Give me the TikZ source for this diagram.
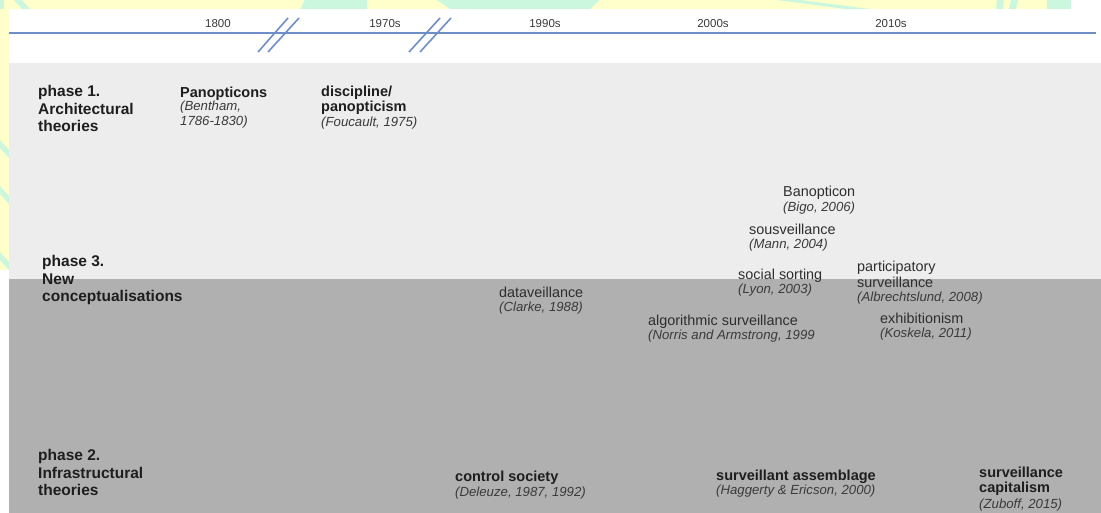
\documentclass[tikz,border=0pt]{standalone}
\usepackage{fontspec}
\setmainfont{Liberation Sans}
\definecolor{tlblue}{HTML}{6E8EC8}
\definecolor{lightband}{HTML}{EDEDED}
\definecolor{darkband}{HTML}{B0B0B0}
\definecolor{decoyellow}{HTML}{FFFFCC}
\definecolor{decomint}{HTML}{CCF7DF}
\definecolor{txtdark}{HTML}{1E1E1E}
\definecolor{txtmid}{HTML}{2E2E2E}
\definecolor{txtcite}{HTML}{3A3A3A}
\begin{document}
\begin{tikzpicture}[x=1pt,y=-1pt,
  phase/.style={anchor=north west,inner sep=0,align=left,text=txtdark,
    font=\fontsize{15.5}{17.5}\selectfont\bfseries},
  ttl/.style={anchor=north west,inner sep=0,align=left,text=txtdark,
    font=\fontsize{14.5}{15.5}\selectfont\bfseries},
  reg/.style={anchor=north west,inner sep=0,align=left,text=txtmid,
    font=\fontsize{14.4}{16}\selectfont},
  cite/.style={anchor=north west,inner sep=0,align=left,text=txtcite,
    font=\fontsize{13.2}{15}\selectfont\itshape},
  year/.style={anchor=base,inner sep=0,text=txtcite,
    font=\fontsize{11.5}{13}\selectfont},
  brk/.style={draw=tlblue,line width=1.6pt}
]
\useasboundingbox (0,0) rectangle (1101,513);
% decorative background strips
\fill[white] (0,0) rectangle (1101,513);
\fill[decoyellow] (0,0) rectangle (1071,9);
\fill[decoyellow] (0,0) rectangle (9,270);
\begin{scope}
  \clip (0,0) rectangle (1071,9) (0,0) rectangle (9,270);
  \fill[decomint] (0,0) rectangle (4,9);
  \fill[decomint] (14,0) -- (22,0) -- (30,9) -- (22,9) -- cycle;
  \fill[decomint] (305,0) -- (367,0) -- (367,9) -- (300,9) -- cycle;
  \fill[decomint] (437,0) -- (600,0) -- (590,9) -- (450,9) -- cycle;
  \fill[decomint] (777,0) -- (800,0) -- (870,9) -- (845,9) -- cycle;
  \fill[decomint] (997,0) -- (1004,0) -- (1003,9) -- (996,9) -- cycle;
  \fill[decomint] (1011,0) -- (1018,0) -- (1016,9) -- (1009,9) -- cycle;
  \fill[decomint] (1047,0) -- (1071,0) -- (1071,9) -- (1047,9) -- cycle;
  \fill[decomint] (0,140) -- (9,150) -- (9,158) -- (0,148) -- cycle;
  \fill[decomint] (0,186) -- (9,196) -- (9,204) -- (0,194) -- cycle;
  \fill[decomint] (0,252) -- (9,262) -- (9,270) -- (0,260) -- cycle;
\end{scope}
% bands
\fill[lightband] (9,63) rectangle (1101,279);
\fill[darkband] (9,279) rectangle (1101,513);
% timeline
\draw[draw=tlblue,line width=2.4pt] (9,33) -- (1096,33);
\draw[brk] (258,52) -- (288,18);
\draw[brk] (268,52) -- (299,18);
\draw[brk] (409,52) -- (440,18);
\draw[brk] (420,52) -- (451,18);
\node[year] (y1800) at (218,28) {1800};
\node[year] (y1970) at (385,28) {1970s};
\node[year] (y1990) at (545,28) {1990s};
\node[year] (y2000) at (713,28) {2000s};
\node[year] (y2010) at (891,28) {2010s};
% phase headings
\node[phase] (ph1) at (38,85.2) {phase 1.\\Architectural\\theories};
\node[phase] (ph3) at (42,255.2) {phase 3.\\New\\conceptualisations};
\node[phase] (ph2) at (38,449.2) {phase 2.\\Infrastructural\\theories};
% phase 1 concepts
\node[ttl] (pan) at (180,86.6) {Panopticons};
\node[cite] (panc) at (180,101.2) {(Bentham,\\1786-1830)};
\node[ttl] (disc) at (321,85.6) {discipline/\\panopticism};
\node[cite] (discc) at (321,116.9) {(Foucault, 1975)};
% phase 3 concepts
\node[reg] (data) at (499,286.9) {dataveillance};
\node[cite] (datac) at (499,301.7) {(Clarke, 1988)};
\node[reg] (ban) at (783,185.9) {Banopticon};
\node[cite] (banc) at (783,201.7) {(Bigo, 2006)};
\node[reg] (sous) at (749,223.9) {sousveillance};
\node[cite] (sousc) at (749,238.7) {(Mann, 2004)};
\node[reg] (soc) at (738,268.9) {social sorting};
\node[cite] (socc) at (738,283.7) {(Lyon, 2003)};
\node[reg] (part) at (857,260.9) {participatory\\surveillance};
\node[cite] (partc) at (857,291.7) {(Albrechtslund, 2008)};
\node[reg] (algo) at (648,314.9) {algorithmic surveillance};
\node[cite] (algoc) at (648,329.7) {(Norris and Armstrong, 1999};
\node[reg] (exh) at (880,312.9) {exhibitionism};
\node[cite] (exhc) at (880,327.7) {(Koskela, 2011)};
% phase 2 concepts
\node[ttl] (ctrl) at (455,470.6) {control society};
\node[cite] (ctrlc) at (455,486.7) {(Deleuze, 1987, 1992)};
\node[ttl] (assem) at (716,469.6) {surveillant assemblage};
\node[cite] (assemc) at (716,484.7) {(Haggerty \& Ericson, 2000)};
\node[ttl] (cap) at (979,466.6) {surveillance\\capitalism};
\node[cite] (capc) at (979,498.7) {(Zuboff, 2015)};
\end{tikzpicture}
\end{document}
